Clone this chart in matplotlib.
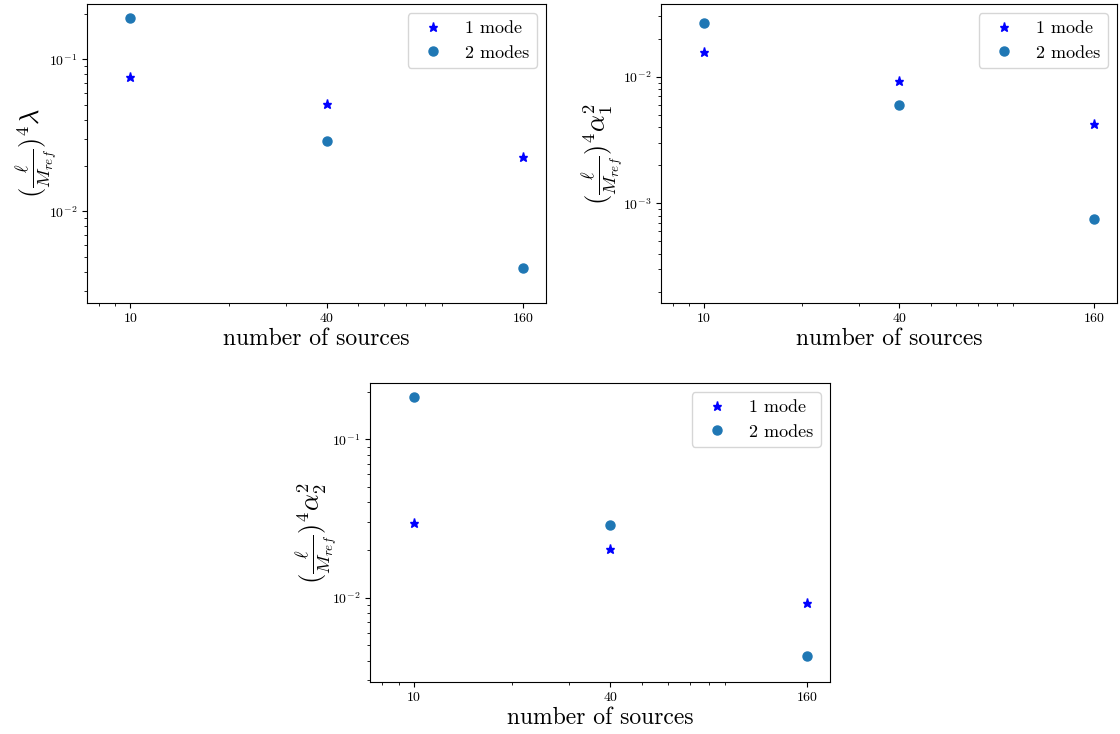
import matplotlib
matplotlib.use("Agg")
import matplotlib.pyplot as plt

plt.rcParams['font.family'] = 'serif'
plt.rcParams['font.serif'] = ['cmr10', 'DejaVu Serif']
plt.rcParams['mathtext.fontset'] = 'cm'
plt.rcParams['axes.formatter.use_mathtext'] = True
plt.rcParams['axes.unicode_minus'] = False

# number of sources
n_sources = [10, 40, 160]

# lambda
lam_1mode = [0.0765, 0.0508, 0.0229]
lam_2modes = [0.1875, 0.0290, 0.00425]

# alpha_1^2
a1_1mode = [0.0156, 0.00924, 0.00420]
a1_2modes = [0.0268, 0.00593, 0.000756]

# alpha_2^2
a2_1mode = [0.0296, 0.0204, 0.00925]
a2_2modes = [0.185, 0.0289, 0.00428]

ylabels = [r'$(\frac{\ell}{M_{ref}})^4\lambda$',
           r'$(\frac{\ell}{M_{ref}})^4\alpha_1^2$',
           r'$(\frac{\ell}{M_{ref}})^4\alpha_2^2$']

fig = plt.figure(figsize=(11.2, 7.34), dpi=100)
ax1 = fig.add_axes([87/1120, 1 - 303/734, 459/1120, 299/734])
ax2 = fig.add_axes([661/1120, 1 - 303/734, 456/1120, 299/734])
ax3 = fig.add_axes([370/1120, 1 - 682/734, 460/1120, 299/734])

panels = [
    (ax1, lam_1mode, lam_2modes, (0.00249, 0.232), -8),
    (ax2, a1_1mode, a1_2modes, (0.000163, 0.0376), -2),
    (ax3, a2_1mode, a2_2modes, (0.00293, 0.227), -6),
]

for (ax, one, two, ylim, pad), lab in zip(panels, ylabels):
    ax.plot(n_sources, one, '*', color='blue', markersize=6.5, label='1 mode')
    ax.plot(n_sources, two, 'o', color='tab:blue', markersize=6.5, label='2 modes')
    ax.set_xscale('log')
    ax.set_yscale('log')
    ax.set_xlim(7.36, 188)
    ax.set_ylim(*ylim)
    ax.set_xticks(n_sources)
    ax.set_xticklabels([str(n) for n in n_sources])
    ax.tick_params(labelsize=10)
    ax.set_xlabel('number of sources', fontsize=17, labelpad=2)
    ax.set_ylabel(lab, fontsize=19, labelpad=pad)
    ax.legend(loc='upper right', fontsize=13)

fig.savefig('out.png', dpi=100)
